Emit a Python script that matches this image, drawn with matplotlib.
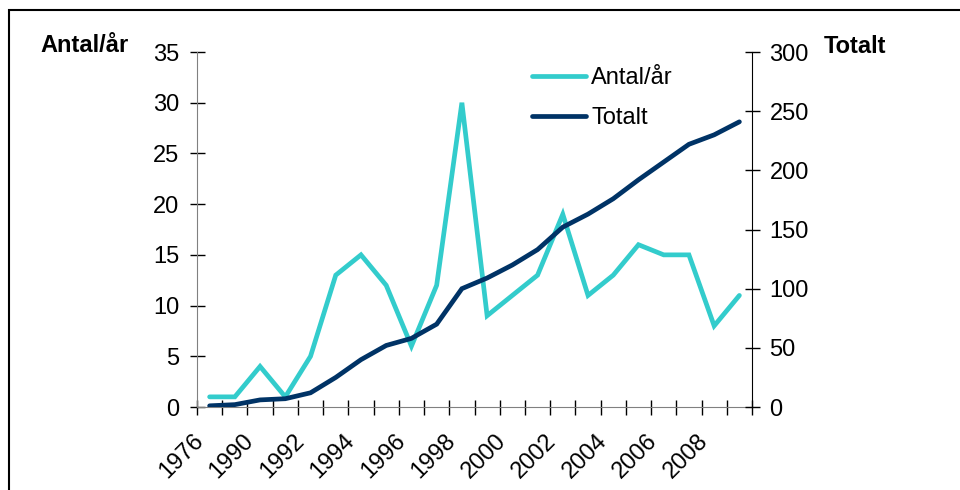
import numpy as np
import matplotlib.pyplot as plt
from matplotlib.patches import Rectangle

plt.rcParams["font.family"] = ["Liberation Sans", "DejaVu Sans"]

years = ["1976", "1989", "1990", "1991", "1992", "1993", "1994", "1995",
         "1996", "1997", "1998", "1999", "2000", "2001", "2002", "2003",
         "2004", "2005", "2006", "2007", "2008", "2009"]
antal = [1, 1, 4, 1, 5, 13, 15, 12, 6, 12, 30, 9, 11, 13, 19, 11, 13, 16,
         15, 15, 8, 11]
totalt = [1, 2, 6, 7, 12, 25, 40, 52, 58, 70, 100, 109, 120, 133, 152, 163,
          176, 192, 207, 222, 230, 241]

cyan = "#33CCCC"
navy = "#003366"
fs = 17

fig = plt.figure(figsize=(9.6, 4.9), dpi=100)
ax = fig.add_axes([197 / 960, 1 - 407 / 490, 555 / 960, 355 / 490])
ax2 = ax.twinx()

x = np.arange(len(years))
l1, = ax.plot(x, antal, color=cyan, lw=3.4, solid_capstyle="round",
              solid_joinstyle="miter", label="Antal/år")
l2, = ax2.plot(x, totalt, color=navy, lw=3.4, solid_capstyle="round",
               solid_joinstyle="miter", label="Totalt")

ax.set_xlim(-0.5, len(years) - 0.5)
ax.set_ylim(0, 35)
ax.set_yticks(range(0, 36, 5))
ax2.set_ylim(0, 300)
ax2.set_yticks(range(0, 301, 50))

# tick marks between categories, labels on every other category
# (label anchors nudged a bit left of the category centre, like Excel)
ax.set_xticks(np.arange(-0.5, len(years)))
ax.set_xticklabels([])
ax.set_xticks(x[::2] - 0.38, minor=True)
ax.set_xticklabels(years[::2], minor=True, rotation=45, ha="right",
                   va="center", rotation_mode="anchor", fontsize=fs)
ax.tick_params(axis="x", which="major", direction="inout", length=10.8,
               width=1, color="black")
ax.tick_params(axis="x", which="minor", length=0, pad=22)
ax.tick_params(axis="y", direction="inout", length=10.8, width=1,
               labelsize=fs, pad=7.5)
ax2.tick_params(axis="y", direction="inout", length=10.8, width=1,
                labelsize=fs, pad=7.2)

for s in ["top", "right"]:
    ax.spines[s].set_visible(False)
for s in ["top", "left", "bottom"]:
    ax2.spines[s].set_visible(False)
ax.spines["left"].set_color("#808080")
ax.spines["bottom"].set_color("#808080")
ax2.spines["right"].set_color("black")

fig.text(40 / 960, 1 - 52 / 490, "Antal/år", fontsize=fs, weight="bold",
         va="baseline", ha="left")
fig.text(824 / 960, 1 - 53 / 490, "Totalt", fontsize=fs, weight="bold",
         va="baseline", ha="left")

fig.legend(handles=[l1, l2], loc="upper left",
           bbox_to_anchor=(532 / 960, 1 - 67 / 490), frameon=False,
           fontsize=fs, borderpad=0, borderaxespad=0, handlelength=2.3,
           handletextpad=0.2, labelspacing=0.78)

fig.patches.append(Rectangle((9 / 960, -0.1), 1.2, 1 - 10 / 490 + 0.1,
                             transform=fig.transFigure, fill=False,
                             lw=1.5, ec="black"))

fig.savefig("out.png", dpi=100)
